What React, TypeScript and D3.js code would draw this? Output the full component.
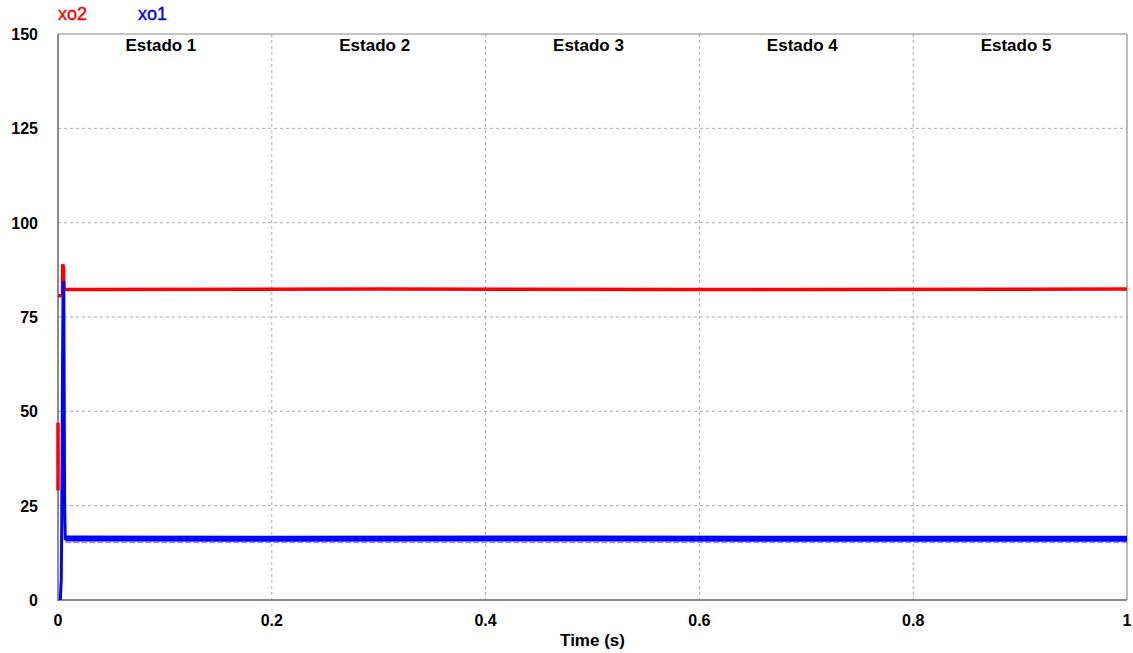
import React from "react";
import * as d3 from "d3";

const xTicks = [0, 0.2, 0.4, 0.6, 0.8, 1];
const yTicks = [0, 25, 50, 75, 100, 125, 150];
const states = ["Estado 1", "Estado 2", "Estado 3", "Estado 4", "Estado 5"];
const stateCenters = [0.1, 0.3, 0.5, 0.7, 0.9];

// xo2 (red); NaN marks a break in the trace
const xo2Time = [0, 0, NaN, 0.0001, 0.0035, 0.0042, 0.0044, 0.0052, 0.0056, 0.006, 0.3, 0.6, 1.0];
const xo2Vals = [29, 47, NaN, 80.6, 80.6, 80.6, 89, 88, 82.4, 82.3, 82.4, 82.3, 82.4];

// xo1 (blue)
const xo1Time = [0.0022, 0.0026, 0.003, 0.0035, 0.0042, 0.0048, 0.0054, 0.0062, 0.0068, 0.2, 0.5, 0.8, 1.0];
const xo1Vals = [0, 3, 5, 20, 60, 84.5, 84, 25, 16.3, 16.2, 16.3, 16.2, 16.2];

const W = 1133;
const H = 653;
const margin = { left: 58, right: 6, top: 34, bottom: 53 };

export default function App() {
  const x = d3.scaleLinear().domain([0, 1]).range([margin.left, W - margin.right]);
  const y = d3.scaleLinear().domain([0, 150]).range([H - margin.bottom, margin.top]);
  const line = d3
    .line<[number, number]>()
    .defined((d) => !isNaN(d[0]) && !isNaN(d[1]))
    .x((d) => x(d[0]))
    .y((d) => y(d[1]));
  const redPts = xo2Time.map((t, i) => [t, xo2Vals[i]] as [number, number]);
  const bluePts = xo1Time.map((t, i) => [t, xo1Vals[i]] as [number, number]);
  const blueSteady = bluePts.filter((p) => p[0] >= 0.0068);
  const font = "'Liberation Sans', Arial, sans-serif";
  const x0 = x(0), x1 = x(1), y0 = y(0), y1 = y(150);
  return (
    <svg
      width={W}
      height={H}
      style={{ position: "absolute", left: 0, top: 0, background: "#fff" }}
      fontFamily={font}
    >
      {/* grid */}
      {xTicks.slice(1, -1).map((t) => (
        <line key={"gx" + t} x1={x(t)} x2={x(t)} y1={y1} y2={y0} stroke="#aaa" strokeDasharray="3,3" strokeWidth={1} />
      ))}
      {yTicks.slice(1, -1).map((t) => (
        <line key={"gy" + t} x1={x0} x2={x1} y1={y(t)} y2={y(t)} stroke="#aaa" strokeDasharray="3,3" strokeWidth={1} />
      ))}
      {/* frame */}
      <line x1={x0} x2={x1} y1={y1} y2={y1} stroke="#888" strokeWidth={1} />
      <line x1={x1} x2={x1} y1={y1} y2={y0} stroke="#777" strokeWidth={1} />
      {/* axes */}
      <line x1={x0} x2={x0} y1={y1} y2={y0 + 1} stroke="#666" strokeWidth={1.5} />
      <line x1={x0} x2={x1} y1={y0} y2={y0} stroke="#666" strokeWidth={1.5} />
      {/* series */}
      <path d={line(redPts) || ""} fill="none" stroke="#ff0000" strokeWidth={3.5} />
      <path d={line(bluePts) || ""} fill="none" stroke="#0000ff" strokeWidth={3} />
      <path d={line(blueSteady) || ""} fill="none" stroke="#0000ff" strokeWidth={6} />
      <path
        d={line(blueSteady.map((p) => [p[0], 15.2] as [number, number])) || ""}
        fill="none"
        stroke="#8080ff"
        strokeWidth={1}
        strokeDasharray="6,2"
      />
      {/* tick labels */}
      {yTicks.map((t) => (
        <text key={"ty" + t} x={38} y={y(t) + 6} textAnchor="end" fontSize={16} fontWeight="bold" fill="#000">
          {t}
        </text>
      ))}
      {xTicks.map((t) => (
        <text key={"tx" + t} x={x(t)} y={626} textAnchor="middle" fontSize={16} fontWeight="bold" fill="#000">
          {t}
        </text>
      ))}
      <text x={x(0.5)} y={646} textAnchor="middle" fontSize={17} fontWeight="bold" fill="#000">
        Time (s)
      </text>
      {states.map((s, i) => (
        <text key={s} x={x(stateCenters[i]) - 4} y={51} textAnchor="middle" fontSize={17} fontWeight="bold" fill="#000">
          {s}
        </text>
      ))}
      {/* legend */}
      <text x={58} y={20} fontSize={18} fill="#ff0000" stroke="#ff0000" strokeWidth={0.4}>xo2</text>
      <text x={138} y={20} fontSize={18} fill="#0000ff" stroke="#0000ff" strokeWidth={0.4}>xo1</text>
    </svg>
  );
}
